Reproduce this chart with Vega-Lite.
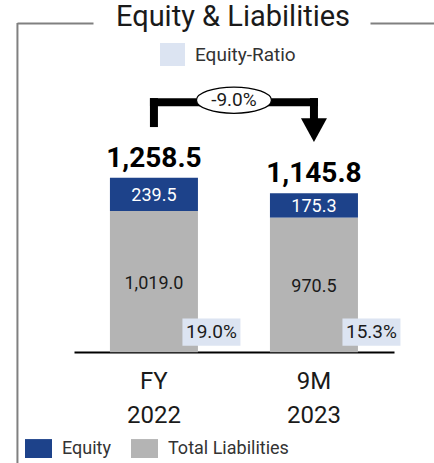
{
  "$schema": "https://vega.github.io/schema/vega-lite/v6.json",
  "width": 417,
  "height": 440,
  "autosize": {"type": "none"},
  "padding": {"left": 17, "top": 23, "right": 0, "bottom": 0},
  "background": "white",
  "title": {"text": "Equity & Liabilities", "font": "Roboto", "fontSize": 29, "fontWeight": "normal", "color": "#1a1a1a", "anchor": "middle", "dx": 7.5, "baseline": "alphabetic", "offset": 0, "dy": 33},
  "config": {"view": {"stroke": null}, "font": "Roboto", "text": {"font": "Roboto"}},
  "datasets": {
    "main": [
      {"period": "FY 2022", "series": "Equity", "value": 239.5},
      {"period": "FY 2022", "series": "Total Liabilities", "value": 1019.0},
      {"period": "9M 2023", "series": "Equity", "value": 175.3},
      {"period": "9M 2023", "series": "Total Liabilities", "value": 970.5}
    ],
    "ratio": [
      {"period": "FY 2022", "ratio": 0.19, "label": "Equity-Ratio"},
      {"period": "9M 2023", "ratio": 0.153, "label": "Equity-Ratio"}
    ],
    "change": [{"label": "-9.0%", "change": -0.09}]
  },
  "resolve": {"axis": {"x": "independent"}},
  "layer": [
    {
      "data": {"name": "main"},
      "mark": {"type": "bar"},
      "encoding": {
        "x": {"field": "period", "type": "nominal", "sort": ["FY 2022", "9M 2023"],
          "scale": {"domain": ["FY 2022", "9M 2023"], "paddingInner": 0.45, "paddingOuter": 0.528, "align": 0.55},
          "axis": {"orient": "bottom", "offset": -111, "domainColor": "black", "domainWidth": 2, "domainDash": [320, 97], "domainDashOffset": 360, "ticks": false, "labelAngle": 0, "labelExpr": "split(datum.label, ' ')", "labelFont": "Roboto", "labelFontSize": 24, "labelLineHeight": 34, "labelPadding": 17, "labelColor": "#1a1a1a", "title": null, "grid": false}},
        "y": {"field": "value", "type": "quantitative", "stack": "zero",
          "scale": {"domain": [-800, 2375], "nice": false, "zero": false},
          "axis": {"orient": "left", "domain": true, "offset": 0, "zindex": 1, "labels": false, "ticks": false, "grid": false, "title": null, "domainColor": "#808080", "domainWidth": 2}},
        "color": {"field": "series", "type": "nominal",
          "scale": {"domain": ["Equity", "Total Liabilities"], "range": ["#1D428A", "#B4B4B4"]},
          "legend": {"orient": "none", "legendX": 8, "legendY": 412, "direction": "horizontal", "title": null, "symbolType": "M-1,-0.7H1V0.7H-1Z", "symbolSize": 729, "symbolStrokeWidth": 0, "labelFont": "Roboto", "labelFontSize": 18, "labelOffset": 10, "columnPadding": 20, "labelColor": "#333333"}},
        "order": {"field": "series", "sort": "descending"}
      }
    },
    {
      "data": {"name": "change"},
      "mark": {"type": "rule", "strokeWidth": 2, "color": "#808080"},
      "encoding": {
        "x": {"datum": "FY 2022", "type": "nominal", "bandPosition": -1.051, "axis": null},
        "y": {"datum": -800, "type": "quantitative", "axis": null},
        "y2": {"datum": 2375}
      }
    },
    {
      "data": {"name": "ratio"},
      "mark": {"type": "point", "shape": "M-1,-0.466H1V0.466H-1Z", "size": 3364, "filled": true, "opacity": 1, "strokeWidth": 0, "xOffset": 57.5, "yOffset": -20},
      "encoding": {
        "x": {"field": "period", "type": "nominal",
          "axis": {"orient": "top", "labels": false, "ticks": false, "grid": false, "title": null, "domainColor": "#808080", "domainWidth": 2, "domainDash": [76, 277, 100]}},
        "y": {"datum": 0, "type": "quantitative", "axis": null},
        "fill": {"field": "label", "type": "nominal", "scale": {"range": ["#DCE4F2"]},
          "legend": {"orient": "none", "legendX": 143, "legendY": 19, "title": null, "symbolType": "M-1,-0.92H1V0.92H-1Z", "symbolSize": 625, "symbolStrokeWidth": 0, "labelFont": "Roboto", "labelFontSize": 19, "labelOffset": 10, "labelColor": "#333333"}}
      }
    },
    {
      "data": {"name": "ratio"},
      "mark": {"type": "text", "dx": 57.5, "dy": -20, "baseline": "middle", "align": "center", "fontSize": 19, "color": "#1a1a1a"},
      "encoding": {
        "x": {"field": "period", "type": "nominal", "axis": null},
        "y": {"datum": 0, "type": "quantitative", "axis": null},
        "text": {"field": "ratio", "type": "quantitative", "format": ".1%"}
      }
    },
    {
      "data": {"name": "main"},
      "transform": [
        {"stack": "value", "groupby": ["period"], "sort": [{"field": "series", "order": "descending"}], "as": ["v0", "v1"]},
        {"fold": ["v0", "v1"], "as": ["k", "pos"]},
        {"aggregate": [{"op": "mean", "field": "pos", "as": "mid"}], "groupby": ["period", "series", "value"]}
      ],
      "mark": {"type": "text", "baseline": "middle", "align": "center", "fontSize": 18, "dy": 2},
      "encoding": {
        "x": {"field": "period", "type": "nominal", "axis": null},
        "y": {"field": "mid", "type": "quantitative", "axis": null},
        "text": {"field": "value", "type": "quantitative", "format": ",.1f"},
        "color": {"condition": {"test": "datum.series === 'Equity'", "value": "white"}, "value": "#1a1a1a"}
      }
    },
    {
      "data": {"name": "main"},
      "transform": [{"aggregate": [{"op": "sum", "field": "value", "as": "total"}], "groupby": ["period"]}],
      "mark": {"type": "text", "baseline": "alphabetic", "align": "center", "fontSize": 28, "fontWeight": "bold", "dy": -11, "color": "black"},
      "encoding": {
        "x": {"field": "period", "type": "nominal", "axis": null},
        "y": {"field": "total", "type": "quantitative", "axis": null},
        "text": {"field": "total", "type": "quantitative", "format": ",.1f"}
      }
    },
    {
      "data": {"name": "change"},
      "mark": {"type": "rule", "strokeWidth": 8, "strokeCap": "square", "color": "black"},
      "encoding": {
        "x": {"datum": "FY 2022", "type": "nominal", "axis": null},
        "y": {"datum": 1653, "type": "quantitative", "axis": null},
        "y2": {"datum": 1804}
      }
    },
    {
      "data": {"name": "change"},
      "mark": {"type": "rule", "strokeWidth": 8, "strokeCap": "square", "color": "black"},
      "encoding": {
        "x": {"datum": "FY 2022", "type": "nominal", "axis": null},
        "x2": {"datum": "9M 2023"},
        "y": {"datum": 1804, "type": "quantitative", "axis": null}
      }
    },
    {
      "data": {"name": "change"},
      "mark": {"type": "rule", "strokeWidth": 8, "strokeCap": "square", "color": "black"},
      "encoding": {
        "x": {"datum": "9M 2023", "type": "nominal", "axis": null},
        "y": {"datum": 1700, "type": "quantitative", "axis": null},
        "y2": {"datum": 1804}
      }
    },
    {
      "data": {"name": "change"},
      "mark": {"type": "point", "shape": "M-1,-0.92L1,-0.92L0,0.92Z", "size": 676, "filled": true, "opacity": 1, "color": "black", "strokeWidth": 0},
      "encoding": {
        "x": {"datum": "9M 2023", "type": "nominal", "axis": null},
        "y": {"datum": 1602, "type": "quantitative", "axis": null}
      }
    },
    {
      "data": {"name": "change"},
      "mark": {"type": "point", "shape": "M-1,0A1,0.35 0 1,0 1,0A1,0.35 0 1,0 -1,0Z", "size": 5625, "fill": "white", "stroke": "black", "strokeWidth": 1.3, "opacity": 1, "filled": true, "xOffset": 80},
      "encoding": {
        "x": {"datum": "FY 2022", "type": "nominal", "axis": null},
        "y": {"datum": 1818, "type": "quantitative", "axis": null}
      }
    },
    {
      "data": {"name": "change"},
      "mark": {"type": "text", "dx": 80, "baseline": "middle", "align": "center", "fontSize": 19, "color": "#1a1a1a"},
      "encoding": {
        "x": {"datum": "FY 2022", "type": "nominal", "axis": null},
        "y": {"datum": 1818, "type": "quantitative", "axis": null},
        "text": {"field": "label", "type": "nominal"}
      }
    }
  ]
}
